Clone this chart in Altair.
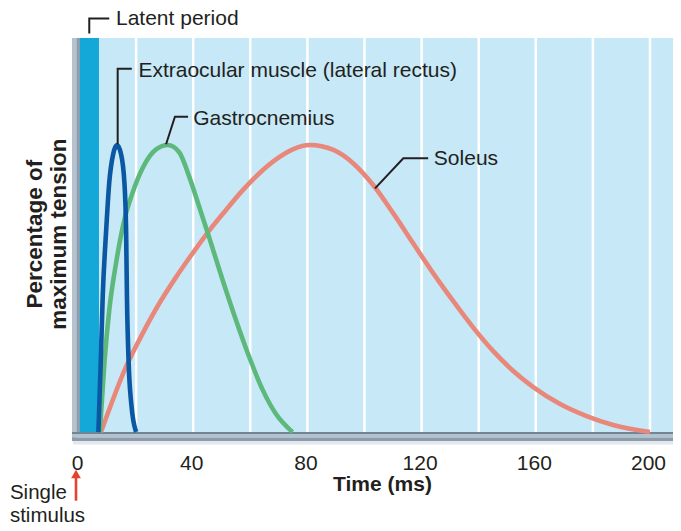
import altair as alt
import pandas as pd

FONT = "Liberation Sans"
TEXT = "#231f20"
FS = 21

# ---- data (time in ms, tension in % of maximum) ----
extra_t = [6.8, 7.6, 8.3, 9.5, 10.6, 12.0, 13.3, 14.7, 15.9, 16.5, 16.8, 17.4, 18.3, 20.0]
extra_v = [0, 24, 47, 70, 87, 97, 100, 97, 87, 70, 47, 24, 10, 0]

gastro_t = [7.3, 8.9, 10.6, 13.0, 15.9, 18.8, 22.3, 27.0, 31.1, 35.1, 38.6, 42.1, 45.7,
            50.3, 55.0, 59.7, 64.3, 69.0, 74.8]
gastro_v = [0, 24, 42.5, 59, 74, 83.5, 92, 98.5, 100, 97.5, 89, 78.5, 67.5, 53, 39, 26, 14.8, 6.3, 0]

soleus_t = [7.7, 16.5, 22.3, 28.1, 34.0, 39.8, 45.6, 51.5, 57.3, 63.2, 69.0, 74.9, 80.8,
            89.1, 96.1, 103.1, 110.1, 117.1, 124.1, 131.1, 138.1, 145.1, 152.1, 159.1,
            168.5, 177.8, 187.1, 200.0]
soleus_v = [0, 22.8, 34.4, 44.8, 54, 62.3, 70.2, 77.4, 84.2, 90.2, 95.0, 98.5, 100,
            98.3, 93.6, 86, 76.2, 65.7, 55.3, 45.6, 36.4, 28.2, 21.3, 15.7,
            9.8, 5.6, 2.5, 0]

latent_period = [0.35, 7.0]
grid_times = [20, 40, 60, 80, 100, 120, 140, 160, 180, 200]
tick_values = [0, 40, 80, 120, 160, 200]

labels = ["Latent period", "Extraocular muscle (lateral rectus)", "Gastrocnemius", "Soleus"]
label_t = [12.96, 20.8, 40.0, 124.3]
label_v = [141.7, 123.6, 107.0, 93.0]

# leader polylines (label index, time, tension)
leader_id = [0, 0, 0, 1, 1, 1, 2, 2, 2, 3, 3, 3]
leader_t = [3.6, 3.6, 10.6, 13.55, 13.55, 18.5, 30.5, 33.6, 38.2, 103.7, 113.6, 122.3]
leader_v = [138.9, 144.1, 144.1, 100.3, 126.6, 126.6, 100.3, 109.9, 109.9, 84.9, 95.4, 95.4]

X_DOMAIN = [-2.45, 208.06]
Y_DOMAIN = [-3.1, 137.3]

xs = alt.Scale(domain=X_DOMAIN, nice=False, zero=False)
ys = alt.Scale(domain=Y_DOMAIN, nice=False, zero=False)

# ---- background panels ----
rects = pd.DataFrame([
    dict(x=latent_period[0], x2=X_DOMAIN[1], y=0, y2=Y_DOMAIN[1], c="#c6e8f7"),
    dict(x=latent_period[0], x2=latent_period[1], y=0, y2=Y_DOMAIN[1], c="#13a8d8"),
    dict(x=X_DOMAIN[0] + 0.3, x2=X_DOMAIN[1], y=-4.3, y2=-3.1, c="#e2e8ed"),
    dict(x=X_DOMAIN[0], x2=-0.9, y=Y_DOMAIN[0], y2=Y_DOMAIN[1], c="#b5c2cd"),
    dict(x=-0.9, x2=latent_period[0], y=-0.7, y2=Y_DOMAIN[1], c="#8c9fb0"),
    dict(x=X_DOMAIN[0], x2=X_DOMAIN[1], y=-0.7, y2=0, c="#6f8697"),
    dict(x=X_DOMAIN[0], x2=X_DOMAIN[1], y=-1.9, y2=-0.7, c="#b4c2cd"),
    dict(x=X_DOMAIN[0], x2=X_DOMAIN[1], y=Y_DOMAIN[0], y2=-1.9, c="#8b9dad"),
])
panels = alt.Chart(rects).mark_rect().encode(
    x=alt.X("x:Q", scale=xs, axis=alt.Axis(values=tick_values, ticks=False, domain=False,
                                             grid=False, title=None, labelFontSize=FS,
                                             labelColor=TEXT, labelFont=FONT,
                                             labelPadding=11, labelOffset=-2)),
    x2="x2:Q",
    y=alt.Y("y:Q", scale=ys, axis=None),
    y2="y2:Q",
    color=alt.Color("c:N", scale=None),
)

grid = alt.Chart(pd.DataFrame({"t": grid_times})).mark_rule(color="white", strokeWidth=2.5).encode(
    x=alt.X("t:Q", scale=xs),
    y=alt.datum(0, scale=ys),
    y2=alt.datum(Y_DOMAIN[1]),
)

def curve(ts, vs, color):
    df = pd.DataFrame({"t": ts, "v": vs})
    return alt.Chart(df).mark_line(color=color, strokeWidth=4.6, interpolate="monotone").encode(
        x=alt.X("t:Q", scale=xs), y=alt.Y("v:Q", scale=ys))

soleus = curve(soleus_t, soleus_v, "#e8877a")
gastro = curve(gastro_t, gastro_v, "#5db97b")
extra = curve(extra_t, extra_v, "#0a57a4")

leaders_df = pd.DataFrame({"id": leader_id, "t": leader_t, "v": leader_v,
                           "o": list(range(len(leader_t)))})
leaders = alt.Chart(leaders_df).mark_line(color=TEXT, strokeWidth=2).encode(
    x=alt.X("t:Q", scale=xs), y=alt.Y("v:Q", scale=ys), detail="id:N", order="o:Q")

label_df = pd.DataFrame({"t": label_t, "v": label_v, "txt": labels})
label_marks = alt.Chart(label_df).mark_text(align="left", baseline="alphabetic", font=FONT,
                                            fontSize=FS, color=TEXT).encode(
    x=alt.X("t:Q", scale=xs), y=alt.Y("v:Q", scale=ys), text="txt:N")

# ---- outer texts ----
outer_df = pd.DataFrame({
    "t": [89.0, -24.2, -24.2],
    "v": [-20.6, -23.35, -31.3],
    "txt": ["Time (ms)", "Single", "stimulus"],
})
outer_bold = alt.Chart(outer_df.iloc[:1]).mark_text(align="left", baseline="alphabetic", font=FONT,
                                                    fontSize=FS, fontWeight="bold", color=TEXT).encode(
    x=alt.X("t:Q", scale=xs), y=alt.Y("v:Q", scale=ys), text="txt:N")
outer_norm = alt.Chart(outer_df.iloc[1:]).mark_text(align="left", baseline="alphabetic", font=FONT,
                                                    fontSize=20.5, color=TEXT).encode(
    x=alt.X("t:Q", scale=xs), y=alt.Y("v:Q", scale=ys), text="txt:N")

ytitle_df = pd.DataFrame({"t": [-13.1, -4.4], "v": [69.0, 69.0],
                          "txt": ["Percentage of", "maximum tension"]})
ytitle = alt.Chart(ytitle_df).mark_text(angle=270, align="center", baseline="alphabetic", font=FONT,
                                        fontSize=22.5, fontWeight="bold", color=TEXT).encode(
    x=alt.X("t:Q", scale=xs), y=alt.Y("v:Q", scale=ys), text="txt:N")

arrow_shaft = alt.Chart(pd.DataFrame({"t": [-1.05], "v": [-23.9], "v2": [-16.0]})).mark_rule(
    color="#e5432d", strokeWidth=2.6).encode(
    x=alt.X("t:Q", scale=xs), y=alt.Y("v:Q", scale=ys), y2="v2:Q")
arrow_head = alt.Chart(pd.DataFrame({"t": [-1.05], "v": [-14.6]})).mark_point(
    shape="triangle-up", filled=True, color="#e5432d", size=95, opacity=1).encode(
    x=alt.X("t:Q", scale=xs), y=alt.Y("v:Q", scale=ys))

chart = alt.layer(
    panels, grid, soleus, gastro, extra, leaders, label_marks,
    outer_bold, outer_norm, ytitle, arrow_shaft, arrow_head,
).properties(
    width=601, height=403,
    autosize=alt.AutoSizeParams(type="none"),
    padding={"left": 64, "top": 30, "right": 0, "bottom": 82},
    background="white",
).configure_view(stroke=None)

chart.save("out.html", embed_options={"renderer": "svg", "actions": False})
